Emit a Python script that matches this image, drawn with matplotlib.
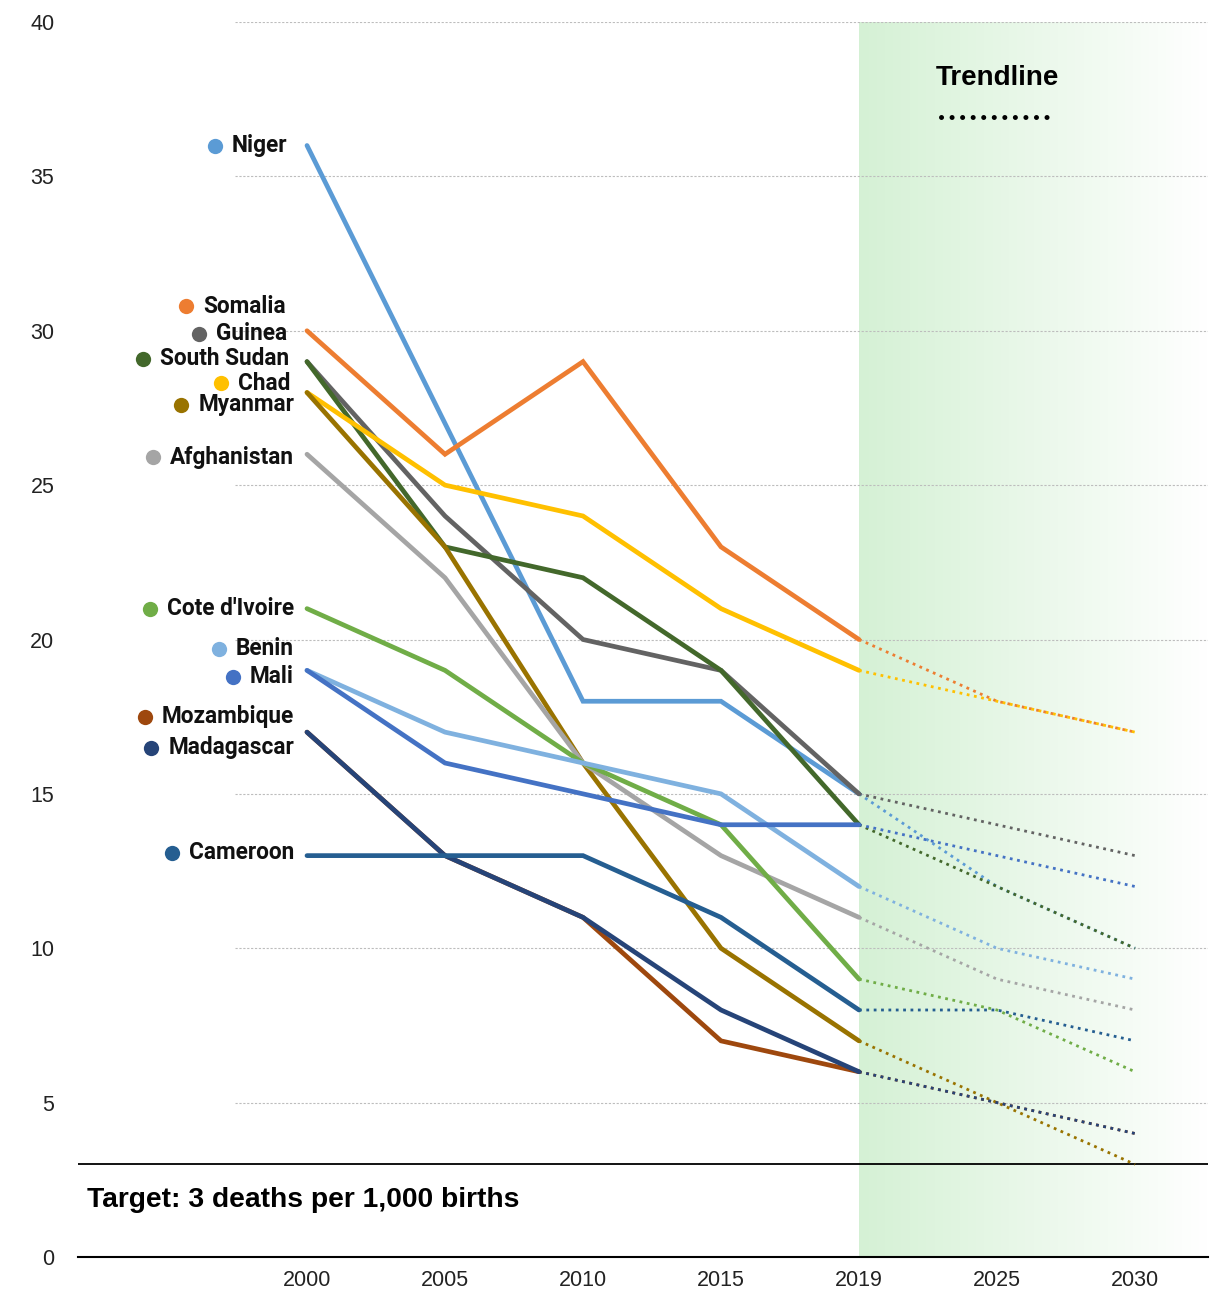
"""Newborn deaths per 1,000 births, 2000-2019 with trendline to 2030."""
import matplotlib
matplotlib.use("Agg")
import matplotlib.pyplot as plt
import numpy as np

years = ["2000", "2005", "2010", "2015", "2019", "2025", "2030"]

# values per country: 2000..2019 measured, 2025/2030 trend
niger = [36, 27, 18, 18, 15, 12, 10]
somalia = [30, 26, 29, 23, 20, 18, 17]
guinea = [29, 24, 20, 19, 15, 14, 13]
south_sudan = [29, 23, 22, 19, 14, 12, 10]
chad = [28, 25, 24, 21, 19, 18, 17]
myanmar = [28, 23, 16, 10, 7, 5, 3]
afghanistan = [26, 22, 16, 13, 11, 9, 8]
cote_divoire = [21, 19, 16, 14, 9, 8, 6]
benin = [19, 17, 16, 15, 12, 10, 9]
mali = [19, 16, 15, 14, 14, 13, 12]
mozambique = [17, 13, 11, 7, 6, 5, 4]
madagascar = [17, 13, 11, 8, 6, 5, 4]
cameroon = [13, 13, 13, 11, 8, 8, 7]

names = ["Niger", "Somalia", "Guinea", "South Sudan", "Chad", "Myanmar",
         "Afghanistan", "Cote d'Ivoire", "Benin", "Mali", "Mozambique",
         "Madagascar", "Cameroon"]
series = [niger, somalia, guinea, south_sudan, chad, myanmar, afghanistan,
          cote_divoire, benin, mali, mozambique, madagascar, cameroon]
colors = ["#5b9bd5", "#ed7d31", "#636363", "#43682b", "#ffc000", "#997300",
          "#a5a5a5", "#70ad47", "#7fb1df", "#4472c4", "#9e480e", "#264478",
          "#255e91"]
# label rows on the left (value-axis units)
label_y = [36.0, 30.8, 29.9, 29.1, 28.3, 27.6, 25.9, 21.0, 19.7, 18.8,
           17.5, 16.5, 13.1]
label_right = [287, 286, 287, 289, 290, 294, 294, 294, 294, 294, 294, 294, 294]

target = 3
W, H = 1220, 1291
X0, STEP = 307, 138  # pixel of 2000 and spacing between year slots


def px2x(px):
    return (px - X0) / STEP


fig = plt.figure(figsize=(W / 100, H / 100), dpi=100)
ax = fig.add_axes([78 / W, (H - 1257) / H, (1208 - 78) / W, (1257 - 22) / H])
ax.set_xlim(px2x(78), px2x(1208))
ax.set_ylim(0, 40)

# green trend zone fading to white
grad = np.linspace(0, 1, 256)
c0 = np.array([0.835, 0.945, 0.835])
img = c0[None, :] * (1 - grad[:, None]) + np.ones(3)[None, :] * grad[:, None]
ax.imshow(img[None, :, :], extent=[4, px2x(1208), 0, 40], aspect="auto",
          zorder=0)

for v in range(5, 41, 5):
    ax.plot([px2x(235), px2x(1208)], [v, v], color="#bdbdbd", lw=0.8,
            ls=(0, (2, 1.5)), zorder=1)
ax.axhline(target, color="black", lw=1.3, zorder=2)

xs = np.arange(len(years))
for i, (vals, c) in enumerate(zip(series, colors)):
    ax.plot(xs[:5], vals[:5], color=c, lw=3.4, solid_capstyle="round",
            solid_joinstyle="miter", zorder=5 + i)
    ax.plot(xs[4:], vals[4:], color=c, lw=2, ls=":", zorder=4)

for s in ["top", "left", "right"]:
    ax.spines[s].set_visible(False)
ax.spines["bottom"].set_linewidth(1.5)
ax.set_yticks(range(0, 41, 5))
ax.set_xticks(xs)
ax.set_xticklabels(years)
for lab in ax.get_xticklabels() + ax.get_yticklabels():
    lab.set_fontfamily("Liberation Sans")
    lab.set_fontsize(15.5)
    lab.set_color("#222222")
ax.tick_params(axis="both", length=0)
ax.tick_params(axis="y", pad=17)
ax.tick_params(axis="x", pad=9)

ax.text(px2x(87), 1.85, "Target: 3 deaths per 1,000 births", fontsize=20.3,
        fontweight="bold", family="Liberation Sans", va="center", ha="left")
ax.text(5.0, 38.2, "Trendline", fontsize=20, fontweight="bold",
        family="Liberation Sans", va="center", ha="center")
ax.plot([px2x(941), px2x(1048)], [36.92, 36.92], color="black", lw=3.6,
        ls=(0, (0.01, 2.1)), dash_capstyle="round")

# country labels with coloured dots
fig.canvas.draw()
renderer = fig.canvas.get_renderer()
for name, c, y, xr in zip(names, colors, label_y, label_right):
    t = ax.text(px2x(xr), y, name, fontsize=16.3, fontweight="semibold",
                family="Roboto", ha="right", va="center", color="#111111")
    bb = t.get_window_extent(renderer)
    ax.plot(px2x(bb.x0 - 17), y, "o", color=c, ms=11, mec="none",
            clip_on=False)

fig.savefig("out.png", dpi=100)
